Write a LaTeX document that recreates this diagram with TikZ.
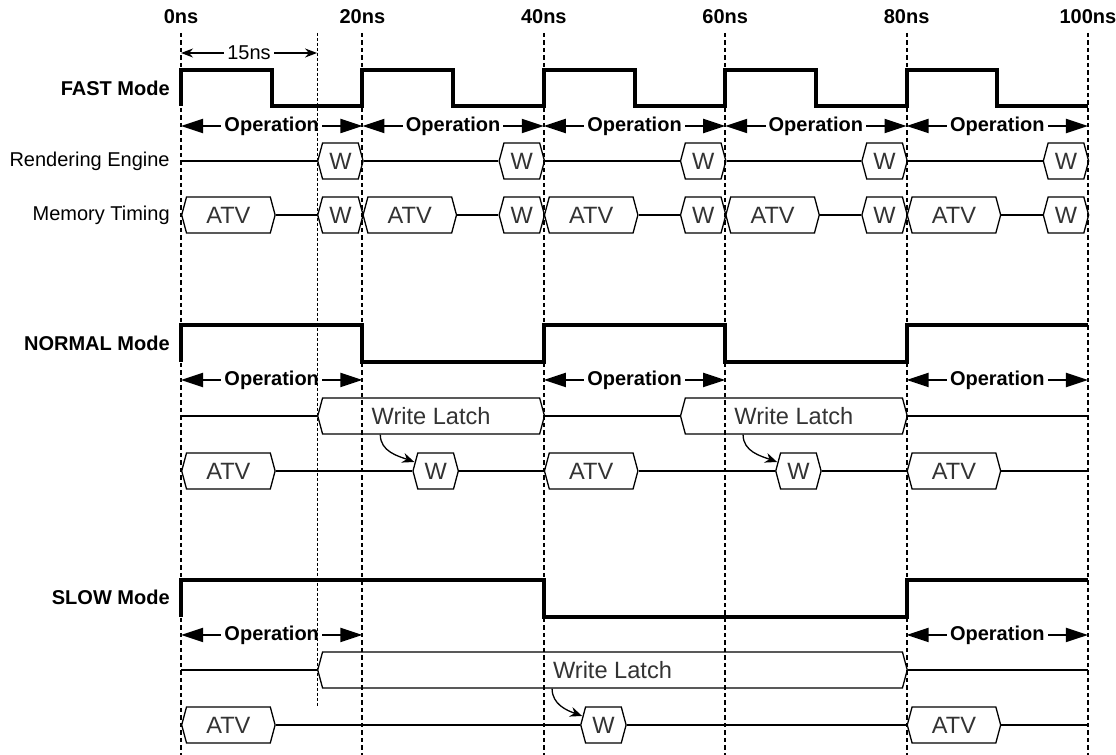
\documentclass[tikz,border=0pt]{standalone}
\usepackage{fontspec}
\setmainfont{Liberation Sans}
\usetikzlibrary{arrows.meta,shapes.symbols}

\begin{document}
\begin{tikzpicture}[x=4.535pt, y=-0.5pt,
    every node/.style={font=\fontsize{10}{12}\selectfont, inner sep=0pt},
    time_label/.style={font=\fontsize{10}{12}\selectfont\bfseries},
    mode_label/.style={anchor=east, font=\fontsize{10}{12}\selectfont\bfseries},
    row_label/.style={anchor=east},
    grid_line/.style={dash pattern=on 2.25pt off 1.5pt, line width=1pt},
    mark_line/.style={dash pattern=on 1.5pt off 1pt, line width=0.5pt},
    wave_line/.style={line width=2pt},
    sig_line/.style={line width=0.65pt},
    bus_box/.style={signal, signal to=east and west, signal pointer angle=150,
        draw, line width=0.65pt, minimum height=18pt, minimum width=#1*4.535pt,
        anchor=west, text=black!80, font=\fontsize{11.8}{14}\selectfont},
    op_arrow/.style={{Triangle[length=11pt,width=7pt]}-{Triangle[length=11pt,width=7pt]}, line width=1pt},
    op_text/.style={fill=white, inner xsep=1.5pt, font=\fontsize{10}{12}\selectfont\bfseries},
    span_arrow/.style={{Stealth[length=6pt,width=4.5pt]}-{Stealth[length=6pt,width=4.5pt]}, line width=0.65pt},
    latch_arrow/.style={-{Stealth[length=6pt,width=5pt]}, line width=0.65pt}
]
\useasboundingbox (-19.96,0) rectangle (103.09,755);

% time axis
\node[time_label] (t0) at (0,17) {0ns};
\node[time_label] (t1) at (20,17) {20ns};
\node[time_label] (t2) at (40,17) {40ns};
\node[time_label] (t3) at (60,17) {60ns};
\node[time_label] (t4) at (80,17) {80ns};
\node[time_label] (t5) at (100,17) {100ns};
\coordinate (top) at (0,33);
\coordinate (bottom) at (0,755);

% FAST mode
\node[mode_label] (fast) at (-1.21,88) {FAST Mode};
\draw[wave_line] (0,106) -- (0,70) -- (10,70) -- (10,106) -- (20,106) -- (20,70)
    -- (30,70) -- (30,106) -- (40,106) -- (40,70) -- (50,70) -- (50,106) -- (60,106)
    -- (60,70) -- (70,70) -- (70,106) -- (80,106) -- (80,70) -- (90,70) -- (90,106) -- (100,106);

\coordinate (span) at (0,53);
\coordinate (t15) at (15,33);
\coordinate (t15end) at (15,708);
\draw[span_arrow] (span) -- node[fill=white, inner xsep=1.5pt] (span_text) {15ns} (span -| t15);

\coordinate (op_fast) at (0,126);
\draw[op_arrow] (t0 |- op_fast) -- node[op_text] (opf1) {Operation} (t1 |- op_fast);
\draw[op_arrow] (t1 |- op_fast) -- node[op_text] (opf2) {Operation} (t2 |- op_fast);
\draw[op_arrow] (t2 |- op_fast) -- node[op_text] (opf3) {Operation} (t3 |- op_fast);
\draw[op_arrow] (t3 |- op_fast) -- node[op_text] (opf4) {Operation} (t4 |- op_fast);
\draw[op_arrow] (t4 |- op_fast) -- node[op_text] (opf5) {Operation} (t5 |- op_fast);

\node[row_label] (render) at (-1.21,161) {Rendering Engine};
\coordinate (re0) at (0,161);
\node[bus_box=5] (re1) at (15,161) {W};
\node[bus_box=5] (re2) at (35,161) {W};
\node[bus_box=5] (re3) at (55,161) {W};
\node[bus_box=5] (re4) at (75,161) {W};
\node[bus_box=5] (re5) at (95,161) {W};
\draw[sig_line] (re0) -- (re1.west) (re1.east) -- (re2.west) (re2.east) -- (re3.west)
    (re3.east) -- (re4.west) (re4.east) -- (re5.west);

\node[row_label] (memory) at (-1.21,215) {Memory Timing};
\node[bus_box=10.3] (mf_a1) at (0,215) {ATV};
\node[bus_box=5] (mf_w1) at (15,215) {W};
\node[bus_box=10.3] (mf_a2) at (20,215) {ATV};
\node[bus_box=5] (mf_w2) at (35,215) {W};
\node[bus_box=10.3] (mf_a3) at (40,215) {ATV};
\node[bus_box=5] (mf_w3) at (55,215) {W};
\node[bus_box=10.3] (mf_a4) at (60,215) {ATV};
\node[bus_box=5] (mf_w4) at (75,215) {W};
\node[bus_box=10.3] (mf_a5) at (80,215) {ATV};
\node[bus_box=5] (mf_w5) at (95,215) {W};
\draw[sig_line] (mf_a1.east) -- (mf_w1.west) (mf_a2.east) -- (mf_w2.west)
    (mf_a3.east) -- (mf_w3.west) (mf_a4.east) -- (mf_w4.west) (mf_a5.east) -- (mf_w5.west);

% NORMAL mode
\node[mode_label] (normal) at (-1.21,343) {NORMAL Mode};
\draw[wave_line] (0,362) -- (0,325) -- (20,325) -- (20,362) -- (40,362) -- (40,325)
    -- (60,325) -- (60,362) -- (80,362) -- (80,325) -- (100,325);

\coordinate (op_normal) at (0,380);
\draw[op_arrow] (t0 |- op_normal) -- node[op_text] (opn1) {Operation} (t1 |- op_normal);
\draw[op_arrow] (t2 |- op_normal) -- node[op_text] (opn2) {Operation} (t3 |- op_normal);
\draw[op_arrow] (t4 |- op_normal) -- node[op_text] (opn3) {Operation} (t5 |- op_normal);

\coordinate (nl0) at (0,416);
\node[bus_box=25] (nl1) at (15,416) {Write Latch};
\node[bus_box=25] (nl2) at (55,416) {Write Latch};
\coordinate (nl3) at (100,416);
\draw[sig_line] (nl0) -- (nl1.west) (nl1.east) -- (nl2.west) (nl2.east) -- (nl3);

\node[bus_box=10.3] (nm_a1) at (0,471) {ATV};
\node[bus_box=5] (nm_w1) at (25.5,471) {W};
\node[bus_box=10.3] (nm_a2) at (40,471) {ATV};
\node[bus_box=5] (nm_w2) at (65.5,471) {W};
\node[bus_box=10.3] (nm_a3) at (80,471) {ATV};
\coordinate (nm_end) at (100,471);
\draw[sig_line] (nm_a1.east) -- (nm_w1.west) (nm_w1.east) -- (nm_a2.west)
    (nm_a2.east) -- (nm_w2.west) (nm_w2.east) -- (nm_a3.west) (nm_a3.east) -- (nm_end);

\draw[latch_arrow] ([xshift=-16pt]nm_w1.west |- nl1.south) to[out=-90, in=160] ([xshift=1pt, yshift=4.5pt]nm_w1.west);
\draw[latch_arrow] ([xshift=-16pt]nm_w2.west |- nl2.south) to[out=-90, in=160] ([xshift=1pt, yshift=4.5pt]nm_w2.west);

% SLOW mode
\node[mode_label] (slow) at (-1.21,597) {SLOW Mode};
\draw[wave_line] (0,617) -- (0,580) -- (40,580) -- (40,617) -- (80,617) -- (80,580) -- (100,580);

\coordinate (op_slow) at (0,635);
\draw[op_arrow] (t0 |- op_slow) -- node[op_text] (ops1) {Operation} (t1 |- op_slow);
\draw[op_arrow] (t4 |- op_slow) -- node[op_text] (ops2) {Operation} (t5 |- op_slow);

\coordinate (sl0) at (0,670);
\node[bus_box=65] (sl1) at (15,670) {Write Latch};
\coordinate (sl2) at (100,670);
\draw[sig_line] (sl0) -- (sl1.west) (sl1.east) -- (sl2);

\node[bus_box=10.3] (sm_a1) at (0,725) {ATV};
\node[bus_box=5] (sm_w1) at (44,725) {W};
\node[bus_box=10.3] (sm_a2) at (80,725) {ATV};
\coordinate (sm_end) at (100,725);
\draw[sig_line] (sm_a1.east) -- (sm_w1.west) (sm_w1.east) -- (sm_a2.west) (sm_a2.east) -- (sm_end);

\draw[latch_arrow] ([xshift=-14pt]sm_w1.west |- sl1.south) to[out=-90, in=160] ([xshift=1pt, yshift=4.5pt]sm_w1.west);

% time grid
\draw[grid_line] (t0 |- top) -- (t0 |- bottom);
\draw[grid_line] (t1 |- top) -- (t1 |- bottom);
\draw[grid_line] (t2 |- top) -- (t2 |- bottom);
\draw[grid_line] (t3 |- top) -- (t3 |- bottom);
\draw[grid_line] (t4 |- top) -- (t4 |- bottom);
\draw[grid_line] (t5 |- top) -- (t5 |- bottom);
\draw[mark_line] (t15) -- (t15end);
\end{tikzpicture}
\end{document}
